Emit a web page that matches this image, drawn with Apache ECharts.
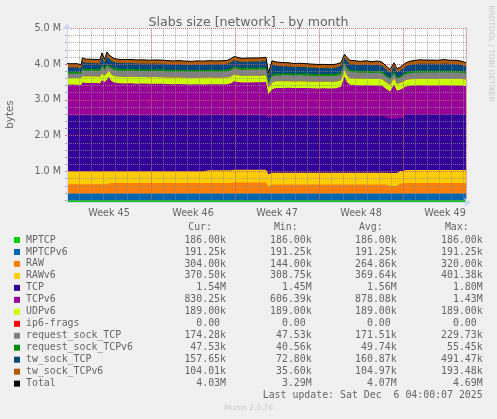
<!DOCTYPE html>
<html><head><meta charset="utf-8">
<script src="https://cdn.jsdelivr.net/npm/echarts@6/dist/echarts.min.js"></script>
<style>html,body{margin:0;padding:0;background:#F0F0F0;}#c{width:497px;height:419px;}</style>
</head><body><div id="c"></div>
<script>
// time in hours from the left edge of the graph (33 days window)
const hours = [0,10,20,28,31,38,46,56,66,70,75,80,84,88,94,104,116,128,140,152,164,176,188,200,212,224,236,248,260,272,284,296,308,320,328,334,342,350,362,374,386,398,403,410,418,430,442,454,466,478,490,502,514,526,538,548,555,560,566,576,586,598,610,620,630,638,646,650,654,660,666,672,678,686,696,706,718,730,742,754,766,778,788,798];

// constant series (k, base 1024) from the legend
const MPTCP_K = 186.00;
const MPTCPv6_K = 191.25;
const UDPv6_K = 189.00;
const IP6FRAGS_K = 0;

// varying series in M (base 1024)
const RAW = [.26,.26,.26,.26,.26,.26,.26,.26,.26,.26,.26,.26,.26,
 .297,.297,.297,.297,.297,.297,.297,.297,.297,.297,.297,.297,.297,.297,.297,.297,.297,.297,.297,.297,.297,.297,
 .31,.31,.31,.31,.31,.31,.31,
 .20,
 .252,.252,.252,.252,.252,.252,.252,.252,.252,.252,.252,.252,.252,.252,.252,.252,.252,.252,.252,.252,.252,.252,.252,
 .21,.21,.21,.21,
 .28,.28,
 .297,.297,.297,.297,.297,.297,.297,.297,.297,.297,.297,.297];
const RAWv6 = [.364,.364,.364,.364,.364,.364,.364,.364,.364,.364,.364,.364,.364,
 .33,.33,.33,.33,.33,.33,.33,.33,.33,.33,.33,.33,.33,.33,.33,.33,.33,
 .355,.355,.355,.355,.355,
 .36,.36,.36,.36,.36,.36,.36,
 .345,
 .335,.335,.335,.335,.335,.335,.335,.335,.335,.335,.335,.335,.335,.335,.335,.335,.335,.335,.335,.335,.335,.335,.335,
 .37,.37,.37,.37,
 .352,.352,
 .362,.362,.362,.362,.362,.362,.362,.362,.362,.362,.362,.362];
const TCP = [1.567,1.567,1.567,1.567,1.567,1.575,1.567,1.567,1.567,1.59,1.567,1.567,1.567,
 1.564,1.564,1.564,1.564,1.564,1.564,1.564,1.564,1.564,1.564,1.564,1.564,1.564,1.564,1.564,1.564,1.564,
 1.54,1.54,1.54,1.54,1.54,
 1.52,1.52,1.52,1.52,1.52,1.52,1.52,
 1.586,
 1.584,1.584,1.584,1.584,1.584,1.584,1.584,1.584,1.584,1.584,1.584,1.584,1.584,1.584,1.584,1.584,1.584,1.584,1.584,1.584,1.584,1.584,
 1.55,
 1.52,1.52,1.52,1.52,
 1.50,1.50,
 1.56,1.56,1.56,1.56,1.56,1.56,1.56,1.56,1.56,1.56,1.56,1.54];
const TCPv6 = [.86,.865,.862,.855,.92,.898,.91,.905,.90,.96,.93,1.00,1.08,.97,.92,.90,.895,.90,.89,.893,
 .885,.89,.888,.88,.875,.878,.87,.866,.87,.868,.875,.87,.872,.875,.90,.96,.94,.92,.925,.93,
 .928,.935,.65,.75,.79,.79,.795,.785,.79,.785,.78,.775,.78,.775,.78,.82,1.11,.95,.88,.87,
 .86,.865,.855,.86,.85,.80,.76,.77,.95,.78,.78,.82,.78,.80,.81,.815,.81,.812,.808,.815,
 .81,.812,.808,.811];
const REQ_TCP = [.125,.122,.128,.12,.165,.16,.158,.162,.16,.20,.15,.20,.14,.165,.165,.17,.168,.172,.17,.168,
 .17,.172,.17,.168,.165,.17,.168,.165,.168,.17,.168,.17,.168,.17,.18,.175,.175,.172,.175,.17,
 .175,.178,.12,.18,.17,.17,.172,.17,.175,.172,.17,.168,.17,.168,.17,.172,.17,.18,.175,.175,
 .172,.175,.17,.175,.17,.16,.15,.15,.14,.15,.15,.16,.165,.17,.175,.178,.18,.178,.18,.182,
 .178,.18,.175,.17];
const REQ_TCPv6 = [.05,.05,.05,.048,.052,.05,.05,.052,.05,.055,.05,.058,.05,.05,.05,.05,.052,.05,.05,.05,
 .048,.05,.05,.05,.05,.048,.05,.05,.05,.05,.05,.05,.05,.05,.052,.052,.052,.05,.05,.05,
 .052,.052,.045,.05,.05,.05,.05,.05,.05,.05,.048,.05,.05,.048,.05,.05,.05,.052,.05,.05,
 .05,.05,.05,.052,.05,.048,.045,.045,.045,.045,.045,.048,.05,.05,.05,.05,.052,.05,.05,.052,
 .05,.05,.048,.046];
const TW_TCP = [.12,.118,.12,.115,.18,.17,.165,.16,.162,.22,.16,.22,.15,.17,.168,.165,.162,.16,.158,.162,
 .16,.155,.158,.155,.152,.155,.15,.152,.155,.15,.155,.152,.155,.158,.17,.175,.17,.168,.17,.172,
 .17,.175,.15,.28,.22,.20,.19,.185,.18,.178,.175,.17,.165,.168,.17,.175,.13,.17,.17,.17,
 .168,.17,.165,.17,.16,.15,.14,.14,.15,.14,.15,.16,.17,.18,.19,.195,.19,.192,.19,.195,
 .188,.185,.175,.154];
const TW_TCPv6 = [.11,.108,.105,.10,.11,.105,.108,.104,.106,.11,.10,.115,.09,.105,.105,.10,.104,.10,.102,.10,
 .10,.103,.10,.10,.10,.10,.10,.098,.10,.10,.10,.10,.10,.102,.105,.103,.105,.105,.105,.105,
 .103,.105,.10,.105,.105,.105,.105,.10,.102,.10,.10,.10,.10,.098,.10,.10,.09,.105,.105,.102,
 .10,.105,.10,.104,.10,.10,.10,.10,.095,.10,.10,.10,.10,.105,.105,.108,.105,.106,.105,.108,
 .105,.106,.104,.102];

const names = ['MPTCP','MPTCPv6','RAW','RAWv6','TCP','TCPv6','UDPv6','ip6-frags','request_sock_TCP','request_sock_TCPv6','tw_sock_TCP','tw_sock_TCPv6','Total'];
const colors = ['#00CC00','#0066B3','#FF8000','#FFCC00','#330099','#990099','#CCFF00','#FF0000','#808080','#008F00','#00487D','#B35A00','#000000'];
const curText = ['186.00k','191.25k','304.00k','370.50k','1.54M','830.25k','189.00k','0.00 ','174.28k','47.53k','157.65k','104.01k','4.03M'];
const minText = ['186.00k','191.25k','144.00k','308.75k','1.45M','606.39k','189.00k','0.00 ','47.53k','40.56k','72.80k','35.60k','3.29M'];
const avgText = ['186.00k','191.25k','264.86k','369.64k','1.56M','878.08k','189.00k','0.00 ','171.51k','49.74k','160.87k','104.97k','4.07M'];
const maxText = ['186.00k','191.25k','320.00k','401.38k','1.80M','1.43M','189.00k','0.00 ','229.73k','55.45k','491.47k','193.48k','4.69M'];
const colHeaders = ['Cur:','Min:','Avg:','Max:'];
const weekLabels = ['Week 45','Week 46','Week 47','Week 48','Week 49'];
const titleText = 'Slabs size [network] - by month';
const lastUpdate = 'Last update: Sat Dec  6 04:00:07 2025';

const layerData = [
  hours.map(() => MPTCP_K / 1024),
  hours.map(() => MPTCPv6_K / 1024),
  RAW, RAWv6, TCP, TCPv6,
  hours.map(() => UDPv6_K / 1024),
  hours.map(() => IP6FRAGS_K / 1024),
  REQ_TCP, REQ_TCPv6, TW_TCP, TW_TCPv6
];
// running sums (rrdtool STACK): each layer's top edge
const tops = [];
layerData.forEach((arr, i) => tops.push(arr.map((v, j) => v + (i ? tops[i - 1][j] : 0))));
const total = tops[tops.length - 1];

// each layer fills from its top edge down to the axis; lower layers are painted over higher ones
const series = layerData.map((arr, i) => ({
  type: 'line', name: names[i], xAxisIndex: 0, yAxisIndex: 0,
  data: hours.map((h, j) => [h, tops[i][j]]),
  symbol: 'none', showSymbol: false, silent: true,
  lineStyle: { width: 0, color: colors[i] },
  itemStyle: { color: colors[i] },
  areaStyle: { color: colors[i], opacity: 1, origin: 'start' },
  z: 20 - i
}));
series.push({
  type: 'line', name: 'Total', xAxisIndex: 0, yAxisIndex: 0,
  data: hours.map((h, j) => [h, total[j]]),
  symbol: 'none', showSymbol: false, silent: true,
  lineStyle: { width: 1, color: '#000' }, itemStyle: { color: '#000' }, z: 40
});

const mono = 'DejaVu Sans Mono';
const sans = 'DejaVu Sans';
const TXT = '#666666';
const graphics = [];
const colEdges = [226, 311.7, 396.7, 482.7];
const cols = [curText, minText, avgText, maxText];
colHeaders.forEach((t, c) => graphics.push({type:'text', x: colEdges[c] - 14, y: 227.7,
  style:{text:t, fontFamily:mono, fontSize:9.9, fill:TXT, align:'right', verticalAlign:'middle'}}));
names.forEach((n, i) => {
  cols.forEach((col, c) => graphics.push({type:'text', x: colEdges[c], y: 240 + 11.97 * i,
    style:{text: col[i], fontFamily:mono, fontSize:9.9, fill:TXT, align:'right', verticalAlign:'middle'}}));
});
graphics.push({type:'text', x: 482.7, y: 395.7, style:{text:lastUpdate, fontFamily:mono, fontSize:9.9, fill:TXT, align:'right', verticalAlign:'middle'}});
graphics.push({type:'text', x: 248.5, y: 408, style:{text:'Munin 2.0.76', fontFamily:sans, fontSize:7.5, fill:'#cccccc', align:'center', verticalAlign:'middle'}});
graphics.push({type:'text', x: 10, y: 114.5, rotation: Math.PI/2, style:{text:'bytes', fontFamily:sans, fontSize:10.3, fill:TXT, align:'center', verticalAlign:'middle'}});
graphics.push({type:'text', x: 491, y: 53.5, rotation: -Math.PI/2, style:{text:'RRDTOOL / TOBI OETIKER', fontFamily:sans, fontSize:7.5, fill:'#c8c8c8', align:'center', verticalAlign:'middle'}});

const GRIDC = 'rgba(143,143,143,0.75)';
const MGRIDC = 'rgba(222,79,79,0.6)';
const AXISC = '#CFD6F8';
const hidden = { axisLine:{show:false}, axisTick:{show:false}, axisLabel:{show:false} };

const chart = echarts.init(document.getElementById('c'), null, {renderer:'canvas'});
chart.setOption({
  animation: false,
  backgroundColor: '#F0F0F0',
  title: { text: titleText, left: 'center', top: 11,
    textStyle: { fontFamily: sans, fontSize: 12.6, fontWeight: 'normal', color: TXT } },
  legend: { orient: 'vertical', left: 14, top: 234, padding: 0, itemGap: 0,
    itemWidth: 6, itemHeight: 6, icon: 'rect', selectedMode: false, data: names,
    textStyle: { fontFamily: mono, fontSize: 9.9, color: TXT, lineHeight: 11.97, padding:[0,0,0,1] } },
  grid: [
    { left: 67, right: 31, top: 28.3, bottom: 216.7, show: true, backgroundColor: '#FFFFFF', borderWidth: 0 },
    { left: 67, right: 31, top: 28.3, bottom: 218.9 },
    { left: 67, right: 31, top: 28.3, bottom: 247.5 }
  ],
  xAxis: [
    { gridIndex: 0, type: 'value', min: 0, max: 798, interval: 84, z: 35,
      splitLine: { show: false }, axisTick: { show: false },
      axisLine: { show: true, onZero: false, lineStyle: { color: AXISC, width: 1 }, symbol: ['none','arrow'], symbolSize: [7, 7], symbolOffset: [0, 5] },
      axisLabel: { interval: 0, hideOverlap: false, margin: 6, color: TXT, fontFamily: sans, fontSize: 9.6,
        formatter: v => { const k = Math.round(v / 84); if (Math.abs(v - k * 84) > 0.01 || k % 2 === 0) return ''; return weekLabels[(k - 1) / 2] || ''; } } },
    Object.assign({ gridIndex: 1, type: 'value', min: 0, max: 798, interval: 24, position: 'bottom', z: 30,
      splitLine: { show: true, lineStyle: { color: GRIDC, type: 'dotted', width: 1 } } }, hidden),
    Object.assign({ gridIndex: 1, type: 'value', min: 0, max: 798, interval: 168, position: 'top', z: 31,
      splitLine: { show: true, lineStyle: { color: MGRIDC, type: 'dotted', width: 1 } } }, hidden),
    Object.assign({ gridIndex: 2, type: 'value', min: 0, max: 798, splitLine: { show: false } }, hidden)
  ],
  yAxis: [
    { gridIndex: 0, type: 'value', min: 0.125, max: 5, z: 35, splitLine: { show: false }, axisTick: { show: false }, axisLabel: { show: false },
      axisLine: { show: true, onZero: false, lineStyle: { color: AXISC, width: 1 }, symbol: ['none','arrow'], symbolSize: [7, 7], symbolOffset: [0, 5] } },
    { gridIndex: 1, type: 'value', min: 0.2, max: 5, interval: 0.2, z: 30,
      axisLine: { show: false }, axisLabel: { show: false },
      axisTick: { show: true, length: 2, lineStyle: { color: GRIDC } },
      splitLine: { show: true, lineStyle: { color: GRIDC, type: 'dotted', width: 1 } } },
    { gridIndex: 2, type: 'value', min: 1, max: 5, interval: 1, z: 31,
      axisLine: { show: false },
      axisTick: { show: true, length: 2, lineStyle: { color: MGRIDC } },
      splitLine: { show: true, lineStyle: { color: MGRIDC, type: 'dotted', width: 1 } },
      axisLabel: { margin: 6, color: TXT, fontFamily: sans, fontSize: 9.6, formatter: v => v.toFixed(1) + ' M' } }
  ],
  series: series,
  graphic: graphics
});
</script>
</body></html>
